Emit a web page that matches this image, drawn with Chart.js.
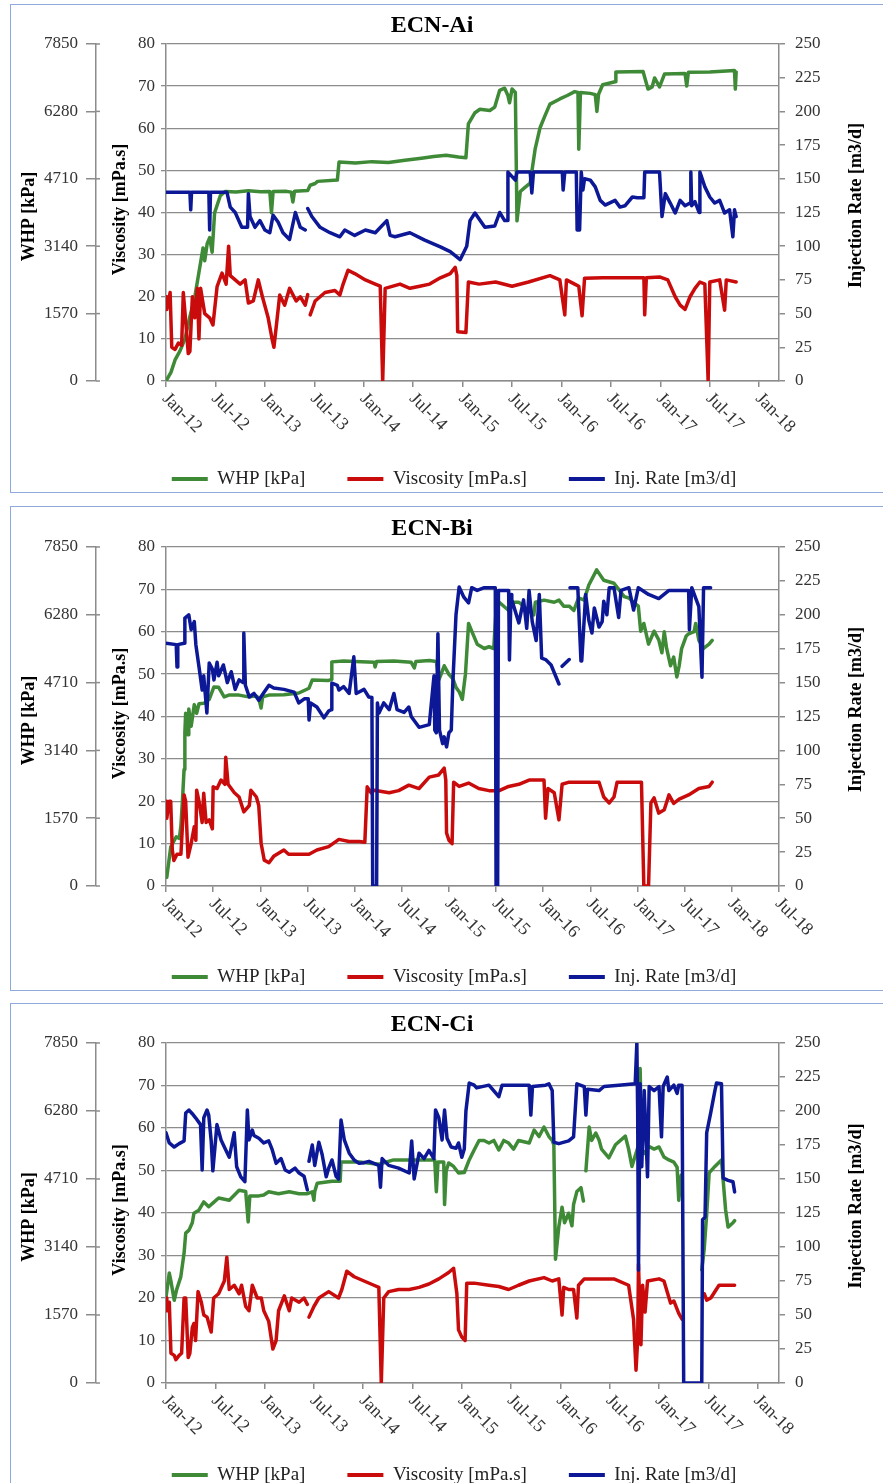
<!DOCTYPE html>
<html>
<head>
<meta charset="utf-8">
<script src="https://cdn.jsdelivr.net/npm/chart.js@4.4.1/dist/chart.umd.min.js"></script>
<style>
  html, body { margin: 0; padding: 0; background: #fff; }
  body { width: 883px; height: 1483px; position: relative; overflow: hidden; }
  .panel { position: absolute; left: 10px; width: 890px; border: 1.5px solid #8eaadb; box-sizing: border-box; }
  canvas { position: absolute; left: 11px; }
</style>
</head>
<body>
<div class="panel" style="top:4px; height:489px"></div>
<div class="panel" style="top:506px; height:485px"></div>
<div class="panel" style="top:1003px; height:490px"></div>
<canvas id="chartA" width="886" height="500" style="top:5px"></canvas>
<canvas id="chartB" width="886" height="500" style="top:507px"></canvas>
<canvas id="chartC" width="886" height="500" style="top:1004px"></canvas>
<script>
// x values are months since Jan-12
const xLabelsA = ['Jan-12', 'Jul-12', 'Jan-13', 'Jul-13', 'Jan-14', 'Jul-14', 'Jan-15', 'Jul-15', 'Jan-16', 'Jul-16', 'Jan-17', 'Jul-17', 'Jan-18'];
const xLabelsB = ['Jan-12', 'Jul-12', 'Jan-13', 'Jul-13', 'Jan-14', 'Jul-14', 'Jan-15', 'Jul-15', 'Jan-16', 'Jul-16', 'Jan-17', 'Jul-17', 'Jan-18', 'Jul-18'];
const whpTicks = [0, 1570, 3140, 4710, 6280, 7850];
const viscTicks = [0, 10, 20, 30, 40, 50, 60, 70, 80];
const injTicks = [0, 25, 50, 75, 100, 125, 150, 175, 200, 225, 250];

// ECN-Ai  [month, value]
const whpA = [[0,0],[0.6,200],[1.1,490],[1.7,700],[2.3,980],[2.9,1500],[3.5,1960],[4.1,2650],[4.5,3100],[4.7,2800],[5.0,3200],[5.3,3340],[5.6,3000],[5.9,3920],[6.6,4320],[7.2,4415],[8.5,4400],[10,4430],[11.5,4410],[12.6,4415],[12.8,3920],[13.0,4415],[14.5,4420],[15.2,4400],[15.4,4170],[15.6,4420],[17.2,4440],[17.5,4560],[18.1,4600],[18.4,4650],[20.8,4680],[21.0,5100],[23,5080],[25,5110],[27,5090],[29,5140],[31,5190],[32.5,5230],[34,5260],[35.5,5220],[36.4,5200],[36.7,5990],[37.5,6250],[38.1,6330],[39.3,6300],[39.9,6380],[40.5,6770],[41.1,6820],[41.5,6650],[41.7,6480],[42.0,6800],[42.4,6720],[42.6,3730],[43.0,4415],[43.5,4500],[44.2,4610],[44.8,5400],[45.4,5900],[46.0,6180],[46.6,6450],[47.8,6570],[48.7,6650],[49.6,6740],[50.0,6720],[50.1,5400],[50.3,6720],[51.5,6700],[52.1,6670],[52.3,6280],[52.5,6680],[53.0,6900],[54.5,6970],[54.6,7200],[57.9,7210],[58.5,6800],[59.0,6850],[59.3,7060],[59.9,6850],[60.5,7150],[63.0,7160],[63.2,6870],[63.4,7190],[66,7200],[69.0,7230],[69.1,6800],[69.2,7200]];
const viscA = [[0,20],[0.1,17],[0.5,21],[0.7,8],[1.1,7.5],[1.5,9],[1.9,8.5],[2.1,21],[2.4,14],[2.7,6.5],[2.9,7],[3.2,20],[3.5,15],[3.8,22],[4.0,10],[4.2,22],[4.7,16],[5.3,15],[5.7,13.3],[6.2,22.4],[6.8,25.6],[7.3,23],[7.6,32],[7.8,25],[8.4,24],[9.0,23],[9.6,24],[10.0,18.5],[10.6,19],[11.2,24],[11.7,20],[12.4,15],[12.9,9.7],[13.1,8],[13.5,15],[13.8,20.4],[14.4,18],[15.0,22],[15.8,19],[16.3,20],[16.9,18],[17.2,20.5],[17.3,null],[17.5,15.7],[18.1,19],[18.7,20],[19.3,21],[20.5,21.5],[21.1,20.4],[21.5,23],[22.1,26.3],[22.9,25.5],[24.2,24],[25.4,23],[26.0,22.5],[26.3,0],[26.6,22],[28.4,23],[29.6,22],[30.8,22.5],[32.0,23],[33.3,24.5],[34.5,25.5],[35.1,27],[35.3,25],[35.4,11.7],[36.4,11.5],[36.7,23.5],[38,23],[40,23.5],[42,22.5],[44,23.5],[46.6,25],[47.8,24],[48.4,15.7],[48.6,24],[49.6,23],[50.1,22.5],[50.5,15.5],[50.8,24.4],[53,24.5],[57,24.5],[58.0,24.5],[58.1,15.7],[58.3,24.5],[59.9,24.7],[60.9,24],[61.8,20],[62.4,18],[63.0,17],[63.6,20],[64.2,22],[64.8,23.5],[65.4,23],[65.8,0],[66.0,23.5],[67.2,24],[67.8,16.8],[68.0,24],[69.2,23.5]];
const injA = [[0,140],[2.9,140],[3.0,127],[3.1,140],[5.2,140],[5.3,112],[5.4,140],[7.4,140],[7.8,129],[8.4,125],[9.2,114],[9.9,114],[10.0,139],[10.2,122],[10.8,114],[11.4,119],[12.0,112],[12.6,110],[13.0,123],[13.6,118],[14.2,110],[15.0,105],[15.7,125],[16.3,114],[16.9,112],[17.0,null],[17.2,128],[17.7,122],[18.7,114],[19.9,110],[21.1,107],[21.7,112],[22.9,108],[24.2,112],[25.4,110],[26.8,119],[27.2,108],[27.8,107],[29.6,110],[31.4,104.5],[33.3,99.5],[34.5,96],[35.7,90],[36.5,100],[36.9,119],[37.5,124.6],[38.7,114],[39.9,115],[40.5,125],[41.1,119],[41.4,119],[41.5,155],[42.4,149],[42.6,155],[44.2,155],[44.4,139.5],[44.6,155],[48.1,155],[48.2,141.7],[48.4,155],[49.8,155],[49.9,112],[50.2,112],[50.4,155],[50.6,141.7],[50.8,150],[51.5,149],[52.1,144],[52.7,134],[53.3,130.5],[54.5,134],[55.1,129],[55.7,130],[56.6,136.5],[57.2,136],[58.0,136],[58.1,155],[59.9,155],[60.2,122],[60.6,139],[61.2,132],[61.8,124.6],[62.4,134],[63.0,130],[63.6,132],[63.7,155],[63.8,130],[64.2,133],[64.7,125],[64.8,155],[65.4,144],[66.0,136.5],[66.6,132],[67.2,134],[67.8,124.6],[68.4,127],[68.8,107],[69.0,127],[69.2,122]];

// ECN-Bi
const whpB = [[0.1,200],[0.6,900],[1.3,1140],[1.7,1100],[1.9,1400],[2.1,2000],[2.3,2700],[2.4,3550],[2.5,4000],[2.8,3500],[2.9,4100],[3.2,3700],[3.6,4200],[3.9,4000],[4.2,4220],[4.8,4230],[5.5,4320],[6.1,4610],[6.7,4600],[7.4,4380],[8.0,4420],[9.3,4420],[10.5,4380],[11.5,4400],[11.8,4350],[12.1,4120],[12.3,4380],[13.1,4420],[15,4430],[16.9,4470],[18.2,4580],[18.6,4770],[20.7,4760],[21.0,4780],[21.1,5190],[22.6,5210],[24,5200],[26.5,5180],[26.6,5070],[26.8,5200],[29,5210],[31.2,5180],[31.6,5050],[31.8,5200],[33.5,5220],[34.4,5200],[34.7,4770],[35.0,4900],[35.4,5100],[35.7,5000],[36.0,4900],[36.5,4800],[36.9,4600],[37.3,4500],[37.7,4320],[38.1,4900],[38.5,6080],[38.9,5900],[39.6,5600],[40.5,5500],[41.1,5540],[41.7,5500],[42.0,6380],[42.4,6570],[43.6,6380],[43.9,6570],[44.9,6570],[46.8,6280],[47.0,6570],[48.1,6620],[49.4,6570],[50.0,6620],[50.6,6480],[51.3,6480],[51.9,6380],[52.5,6670],[53.2,6620],[53.8,6970],[54.8,7320],[55.7,7080],[57.0,7010],[57.6,6870],[58.3,6700],[58.9,6670],[59.5,6570],[60.1,6480],[60.4,5900],[60.8,6080],[61.4,5600],[62.1,5900],[62.7,5700],[63.1,5400],[63.4,5890],[63.7,5500],[64.2,5100],[64.6,5300],[65.0,4840],[65.3,5100],[65.6,5490],[66.2,5790],[66.5,5840],[67.2,5890],[67.4,6080],[67.8,5690],[68.4,5500],[69.1,5600],[69.5,5690]];
const viscB = [[0,20],[0.1,16],[0.4,20],[0.6,20],[0.8,8.5],[1.0,6],[1.4,7.5],[1.9,7.5],[2.3,21.5],[2.5,20],[2.8,6.8],[3.2,10],[3.6,14],[3.8,10.8],[3.9,22.6],[4.2,20],[4.6,15],[4.8,21.9],[5.1,15],[5.5,15.6],[5.9,13.5],[6.0,23.4],[6.5,23],[7.0,25],[7.5,24],[7.6,30.4],[7.9,24],[8.7,22],[9.3,21],[9.9,17.5],[10.6,19],[10.8,22.6],[11.5,21],[11.8,19],[12.1,10.1],[12.5,6.1],[13.1,5.5],[13.7,7],[15.0,8.5],[15.6,7.5],[16.9,7.5],[18.2,7.5],[19.2,8.5],[20.7,9.3],[22.0,11],[23.3,10.5],[24.6,10.5],[25.3,10.3],[25.6,23.4],[26.1,22],[26.5,22.6],[28.4,22],[29.6,22.5],[30.9,23.8],[32.2,23],[33.5,25.7],[34.7,26.2],[35.4,27.8],[35.6,25],[35.7,12.5],[36.0,10.8],[36.4,10],[36.6,24.5],[37.3,23.5],[38.5,24.3],[39.8,23],[41.1,22.5],[42.4,22.5],[43.6,23.5],[44.9,24],[46.2,25],[48.1,25],[48.3,16],[48.6,23],[49.4,22],[50.0,15.6],[50.4,24],[51.3,24.5],[53.8,24.5],[55.1,24.5],[55.7,21],[56.4,19.6],[57.0,21],[57.4,24.5],[60.5,24.5],[60.8,0],[61.4,0],[61.7,19.6],[62.1,20.8],[62.7,17.2],[63.4,18],[64.0,21.5],[64.6,19.5],[65.3,20.5],[66.5,21.5],[67.8,23],[69.1,23.5],[69.5,24.5]];
const injB = [[0,179],[1.3,178],[1.4,161.5],[1.5,178],[2.3,179],[2.4,197.6],[2.9,200],[3.2,189],[3.6,195],[3.8,178],[4.2,161.5],[4.6,144.5],[4.8,155],[5.2,127.6],[5.5,164.5],[5.9,160],[6.1,152],[6.5,165],[6.7,155],[7.3,163],[7.8,150],[8.3,158],[8.8,145],[9.3,152],[9.8,150],[9.9,186.6],[10.1,148],[10.6,139.4],[11.2,142],[11.8,137],[12.5,143],[13.1,148],[13.7,146],[15.0,145],[16.3,143],[16.9,135],[17.6,138],[18.1,138],[18.2,122.4],[18.4,135],[19.2,132],[20.1,124],[20.7,129],[21.0,130],[21.1,149.7],[21.8,148],[22.0,144.5],[22.6,147],[23.3,142],[23.9,169],[24.2,142],[25.2,145],[25.8,139.4],[26.2,139],[26.3,0],[26.8,0],[26.9,135],[27.1,127.6],[27.7,135],[28.4,130],[29.0,142],[29.4,130],[30.3,128],[30.9,132],[31.2,125],[32.2,117],[33.5,119],[34.1,155],[34.2,115],[34.4,113],[34.6,186],[34.8,115],[35.2,105],[35.4,110],[35.7,102.6],[36.0,113],[36.3,115],[36.5,150],[36.9,200],[37.3,220.5],[37.9,213],[38.5,208.7],[38.9,220],[39.6,218],[40.5,220],[41.9,220],[42.0,0],[42.2,0],[42.3,218],[43.6,218],[43.7,166.7],[43.9,215],[44.0,211],[44.9,194],[45.5,211],[45.9,190],[46.2,218],[46.6,195],[47.1,181],[47.5,215],[47.8,168],[48.3,167],[49.0,163],[50.0,149],[50.1,null],[50.4,162],[51.3,167],[51.35,null],[51.4,220],[52.4,220],[52.8,166],[52.9,166],[53.4,215],[53.8,196],[54.2,186.6],[54.5,205],[55.1,191],[55.5,195],[55.7,210],[56.1,200],[56.4,220],[57.0,220],[57.6,198],[57.9,218],[58.9,220],[59.5,203.5],[60.1,220],[61.4,215],[62.7,212],[64.0,218],[66.5,218],[66.6,189],[66.9,220],[67.8,206],[68.2,154],[68.4,220],[69.3,220]];

// ECN-Ci
const whpC = [[0,1980],[0.4,2540],[0.6,2350],[1.0,1910],[1.3,2160],[1.8,2450],[2.2,3000],[2.4,3460],[2.8,3530],[3.2,3700],[3.4,3920],[4.0,3990],[4.6,4180],[5.2,4070],[5.8,4170],[6.4,4270],[7.7,4220],[8.9,4450],[9.7,4420],[10.0,3720],[10.2,4320],[11.3,4320],[11.9,4340],[12.5,4415],[13.7,4370],[15.0,4415],[16.2,4370],[17.2,4370],[17.8,4415],[18.0,4220],[18.1,4420],[18.4,4610],[20.2,4660],[21.2,4660],[21.3,5100],[23.5,5100],[25.9,5050],[27.7,5150],[30.2,5150],[32.7,5150],[32.9,4415],[33.1,5100],[33.8,5100],[33.9,4120],[34.1,4900],[34.4,5080],[35.0,5000],[35.6,4850],[36.3,4860],[36.9,5150],[37.5,5380],[38.1,5600],[38.7,5600],[39.3,5540],[39.9,5600],[40.5,5380],[41.1,5600],[41.7,5540],[42.3,5400],[42.9,5600],[44.2,5540],[44.8,5840],[45.4,5690],[46.0,5910],[46.6,5690],[47.0,5600],[47.2,5500],[47.4,2860],[47.8,3600],[48.2,4060],[48.5,3700],[49.0,3920],[49.4,3630],[49.6,4120],[50.0,4420],[50.5,4510],[50.8,4200],[50.9,null],[51.1,4900],[51.5,5910],[51.8,5600],[52.3,5770],[52.7,5610],[53.0,5400],[53.9,5200],[54.7,5500],[55.9,5700],[56.3,5400],[56.7,5000],[57.5,5490],[57.7,7260],[57.9,5400],[58.2,5300],[58.8,5460],[59.4,5400],[60.0,5450],[60.6,5220],[61.2,5150],[61.8,5100],[62.2,4980],[62.4,4220],[62.7,4800],[62.8,null],[65.2,2610],[65.5,3100],[65.8,3900],[66.1,4850],[66.8,5000],[67.6,5150],[68.1,4000],[68.4,3600],[69.0,3700],[69.2,3750]];
const viscC = [[0,20],[0.1,17],[0.4,19],[0.6,7],[1.0,6.5],[1.2,5.5],[1.6,6.5],[1.9,7],[2.2,20],[2.4,20],[2.7,6],[2.9,7],[3.2,13],[3.4,14],[3.6,10],[3.9,21.5],[4.3,19],[4.6,16],[5.0,15.5],[5.5,12],[5.8,20],[6.4,21],[7.1,24],[7.4,29.6],[7.7,22],[8.3,23],[8.9,21],[9.2,23],[9.7,18],[10.1,17],[10.5,23],[11.1,20],[11.6,20],[11.9,17],[12.5,14.5],[13.0,8],[13.4,10],[13.7,17],[14.4,20.5],[15.0,17],[15.3,20],[16.2,19],[16.8,20],[17.2,18.5],[17.3,null],[17.4,15.5],[18.0,18],[18.6,20],[19.8,21.5],[21.0,20],[21.4,22],[22.0,26.3],[22.9,25],[24.1,24],[25.3,23],[25.9,22.5],[26.2,0],[26.5,20],[27.1,21.5],[28.3,22],[29.6,22],[30.8,22.5],[32.0,23.3],[33.2,24.5],[34.4,26],[35.0,27],[35.4,21],[35.6,12.5],[36.0,10.8],[36.4,10],[36.6,23.5],[37.5,23.5],[39.3,23],[40.5,22.7],[41.7,22],[42.9,23],[44.2,24],[46.0,24.8],[47.0,24],[47.8,24.5],[48.2,16],[48.4,22.5],[49.0,22],[49.6,22],[50.0,15.3],[50.2,23],[50.9,24.5],[52.7,24.5],[54.5,24.5],[56.3,23],[56.9,15],[57.2,3],[57.4,10],[57.5,28],[57.8,9],[58.0,23],[58.3,16.7],[58.6,24],[60.0,24.5],[60.6,24],[61.0,21.4],[61.4,18.8],[61.8,19.3],[62.4,16.4],[62.8,15],[62.9,null],[65.5,21],[65.8,19.5],[66.3,20],[67.3,23],[68.4,23],[69.2,23]];
const injC = [[0,184],[0.4,176.5],[1.0,173.5],[1.6,176],[2.2,178],[2.4,198.5],[2.8,200.7],[3.2,198],[3.6,195],[4.2,190],[4.4,156.6],[4.6,195],[5.0,200.7],[5.2,197],[5.5,178],[5.7,156],[6.2,190],[6.7,178.7],[7.1,173.5],[7.7,166],[8.3,184],[8.6,159],[9.1,151.6],[9.6,148],[9.9,200.7],[10.1,178.7],[10.5,186],[10.7,182],[11.3,180],[11.9,176.5],[12.5,178],[12.9,172],[13.4,161.5],[14.0,165],[14.5,156.6],[15.0,155],[15.7,158],[16.2,154.4],[16.8,152],[17.2,142],[17.3,null],[17.4,163],[17.8,175],[18.1,160],[18.6,177],[19.0,168],[19.5,151.6],[19.8,158],[20.2,164],[20.7,152],[21.0,150],[21.3,193.4],[21.7,178.7],[22.3,169],[22.9,164],[23.5,161.5],[24.1,162],[24.7,163],[25.9,160],[26.1,144],[26.3,165],[27.1,160],[28.3,158],[29.6,154.4],[29.9,178],[30.2,150],[30.8,169],[31.4,165],[32.0,171],[32.6,165],[32.8,200.7],[33.2,195],[33.6,178.7],[33.9,200.7],[34.2,180],[34.7,173.5],[35.3,172.6],[35.6,176.5],[36.0,166],[36.3,172],[36.5,200],[36.9,220.6],[37.5,219],[37.8,217],[39.3,219],[40.5,210.5],[40.9,219],[42.9,219],[44.2,219],[44.4,197],[44.6,218],[46.2,219],[46.6,220],[47.0,215],[47.2,177],[47.8,176],[49.0,178],[49.6,181],[50.0,220],[50.9,218],[51.1,197],[51.3,216],[52.7,215],[53.3,218],[55.1,219],[57.1,220],[57.3,250],[57.4,200],[57.5,83],[57.7,220],[57.9,159],[58.2,215],[58.6,151.6],[58.8,218],[59.4,215],[60.0,218],[60.3,181],[60.5,218],[61.0,225],[61.2,215],[61.8,219],[62.2,213],[62.4,219],[62.8,219],[63.0,0],[65.2,0],[65.3,120],[65.6,122],[65.8,184],[66.3,199],[66.8,215],[67.0,220.6],[67.6,220],[67.8,150.7],[68.4,149],[69.0,148],[69.2,140.5]];

const GREEN = '#3f8a37';
const RED = '#c90b0b';
const BLUE = '#0c1896';
const axisColor = '#8c8c8c';
const tickColor = '#333333';

Chart.defaults.font.family = '"Liberation Serif", "Times New Roman", serif';

function toXY(pairs) {
    return pairs.map(p => ({ x: p[0], y: p[1] }));
}

function drawUp(ctx, text, x, y) {
    ctx.save();
    ctx.translate(x, y);
    ctx.rotate(-Math.PI / 2);
    ctx.fillText(text, 0, 0);
    ctx.restore();
}

// titles, rotated axis titles and the slanted date labels
const panelText = {
    id: 'panelText',
    afterDraw(chart, args, o) {
        const { ctx, chartArea: a, scales } = chart;
        const midY = (a.top + a.bottom) / 2;
        ctx.save();
        ctx.fillStyle = '#000';
        ctx.textBaseline = 'middle';
        ctx.textAlign = 'center';
        ctx.font = 'bold 24px "Liberation Serif"';
        ctx.fillText(o.title, a.left + (a.right - a.left) * 0.434, a.top - 18);

        ctx.font = 'bold 18px "Liberation Serif"';
        drawUp(ctx, 'WHP [kPa]', a.left - 137, midY + 4);
        drawUp(ctx, 'Viscosity [mPa.s]', a.left - 46, midY - 3);
        drawUp(ctx, 'Injection Rate [m3/d]', a.right + 77, midY - 7);

        // WHP tick marks cross the axis line
        const w = scales.whp;
        ctx.strokeStyle = axisColor;
        ctx.lineWidth = 1.5;
        w.ticks.forEach(t => {
            const y = w.getPixelForValue(t.value);
            ctx.beginPath();
            ctx.moveTo(w.right, y);
            ctx.lineTo(w.right + 4, y);
            ctx.stroke();
        });

        const xs = scales.x;
        ctx.font = '18px "Liberation Serif"';
        ctx.fillStyle = tickColor;
        ctx.textAlign = 'left';
        xs.ticks.forEach((t, i) => {
            ctx.save();
            ctx.translate(xs.getPixelForValue(t.value) - 1, a.bottom + 15);
            ctx.rotate(Math.PI / 4);
            ctx.fillText(o.labels[i], 0, 0);
            ctx.restore();
        });
        ctx.restore();
    }
};

function makeChart(id, title, xLabels, xMax, whp, visc, inj, g) {
    const H = 500, legendPad = 42, legendFont = 19;
    const legendTop = g.legendY - legendPad - legendFont / 2;
    const legendBottom = g.legendY + legendFont / 2 + 10;
    const xAxisH = legendTop - g.bottom;
    const tickFont = { size: 17 };

    return new Chart(document.getElementById(id), {
        type: 'line',
        data: {
            datasets: [
                { label: 'WHP [kPa]', data: toXY(whp), yAxisID: 'whp', borderColor: GREEN, backgroundColor: GREEN, order: 3 },
                { label: 'Viscosity [mPa.s]', data: toXY(visc), yAxisID: 'visc', borderColor: RED, backgroundColor: RED, order: 2 },
                { label: 'Inj. Rate [m3/d]', data: toXY(inj), yAxisID: 'inj', borderColor: BLUE, backgroundColor: BLUE, order: 1 },
            ],
        },
        options: {
            responsive: false,
            animation: false,
            devicePixelRatio: 1,
            events: [],
            spanGaps: false,
            elements: {
                line: { borderWidth: 3.5, tension: 0, borderJoinStyle: 'round', borderCapStyle: 'round' },
                point: { radius: 0, borderWidth: 4 },  // borderWidth feeds the legend line
            },
            layout: { padding: { top: g.top, bottom: H - legendBottom, left: 0, right: 0 } },
            scales: {
                x: {
                    type: 'linear', min: 0, max: xMax,
                    afterBuildTicks: s => { s.ticks = xLabels.map((l, i) => ({ value: i * 6 })); },
                    afterFit: s => { s.height = xAxisH; },
                    ticks: { display: false },
                    grid: { drawOnChartArea: false, tickLength: 6, color: axisColor, lineWidth: 1.5 },
                    border: { color: axisColor, width: 1.5 },
                },
                whp: {
                    type: 'linear', position: 'left', weight: 2, min: 0, max: 7850,
                    afterBuildTicks: s => { s.ticks = whpTicks.map(v => ({ value: v })); },
                    afterFit: s => { s.width = 85; },
                    ticks: { padding: 8, font: tickFont, color: tickColor, callback: v => String(v) },
                    grid: { drawOnChartArea: false, tickLength: 10, color: axisColor, lineWidth: 1.5 },
                    border: { color: axisColor, width: 1.5 },
                },
                visc: {
                    type: 'linear', position: 'left', weight: 1, min: 0, max: 80,
                    afterBuildTicks: s => { s.ticks = viscTicks.map(v => ({ value: v })); },
                    afterFit: s => { s.width = 70; },
                    ticks: { padding: 6, font: tickFont, color: tickColor },
                    grid: { tickLength: 5, color: axisColor, lineWidth: 1.3 },
                    border: { color: axisColor, width: 1.5 },
                },
                inj: {
                    type: 'linear', position: 'right', min: 0, max: 250,
                    afterBuildTicks: s => { s.ticks = injTicks.map(v => ({ value: v })); },
                    afterFit: s => { s.width = 118; },
                    ticks: { padding: 10, font: tickFont, color: tickColor },
                    grid: { drawOnChartArea: false, tickLength: 6, color: axisColor, lineWidth: 1.5 },
                    border: { color: axisColor, width: 1.5 },
                },
            },
            plugins: {
                legend: {
                    position: 'bottom',
                    labels: {
                        usePointStyle: true,
                        pointStyle: 'line',
                        pointStyleWidth: 36,
                        padding: legendPad,
                        font: { size: legendFont },
                        color: '#222',
                        sort: (a, b) => a.datasetIndex - b.datasetIndex,
                    },
                },
                tooltip: { enabled: false },
                panelText: { title: title, labels: xLabels },
            },
        },
        plugins: [panelText],
    });
}

makeChart('chartA', 'ECN-Ai', xLabelsA, 74.4, whpA, viscA, injA, { top: 39, bottom: 376, legendY: 474 });
makeChart('chartB', 'ECN-Bi', xLabelsB, 78, whpB, viscB, injB, { top: 40, bottom: 379, legendY: 470 });
makeChart('chartC', 'ECN-Ci', xLabelsA, 74.6, whpC, viscC, injC, { top: 39, bottom: 379, legendY: 471 });
</script>
</body>
</html>
